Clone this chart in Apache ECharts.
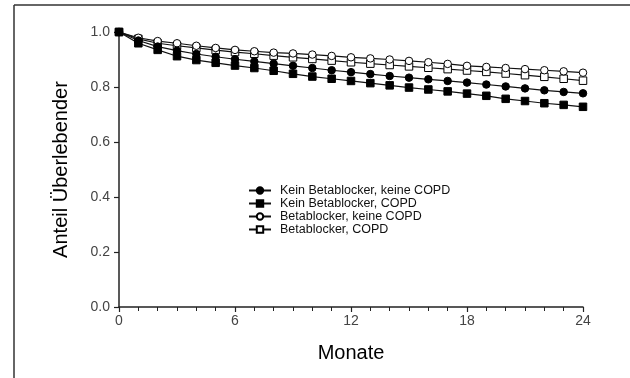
<!DOCTYPE html>
<html>
<head>
<meta charset="utf-8">
<script src="https://cdn.jsdelivr.net/npm/echarts@6/dist/echarts.min.js"></script>
<style>html,body{margin:0;padding:0;background:#fff}#c{width:630px;height:378px}</style>
</head>
<body>
<div id="c"></div>
<script>
const months = [0,1,2,3,4,5,6,7,8,9,10,11,12,13,14,15,16,17,18,19,20,21,22,23,24];
const seriesNames = ['Kein Betablocker, keine COPD','Kein Betablocker, COPD','Betablocker, keine COPD','Betablocker, COPD'];
const keinBB_keineCOPD = [1,0.969,0.947,0.932,0.920,0.910,0.901,0.893,0.885,0.877,0.869,0.861,0.854,0.847,0.840,0.834,0.828,0.822,0.816,0.809,0.802,0.795,0.788,0.782,0.777];
const keinBB_COPD = [1,0.959,0.935,0.912,0.898,0.888,0.878,0.869,0.859,0.848,0.838,0.830,0.822,0.814,0.806,0.798,0.791,0.784,0.776,0.768,0.757,0.749,0.741,0.735,0.728];
const BB_keineCOPD = [1,0.979,0.967,0.959,0.950,0.942,0.935,0.930,0.925,0.922,0.918,0.913,0.908,0.904,0.900,0.895,0.890,0.884,0.877,0.873,0.869,0.865,0.861,0.857,0.852];
const BB_COPD = [1,0.975,0.959,0.950,0.942,0.934,0.927,0.921,0.914,0.908,0.902,0.896,0.890,0.885,0.880,0.875,0.870,0.865,0.860,0.855,0.849,0.843,0.837,0.830,0.823];
const yTicks = ['0.0','0.2','0.4','0.6','0.8','1.0'];

const allData = [keinBB_keineCOPD, keinBB_COPD, BB_keineCOPD, BB_COPD];
const symbols = ['circle','rect','circle','rect'];
const fills = ['#000','#000','#fff','#fff'];

const chart = echarts.init(document.getElementById('c'), null, {renderer:'canvas'});
chart.setOption({
  backgroundColor:'#fff',
  animation:false,
  graphic:[
    {type:'line', shape:{x1:14,y1:5,x2:640,y2:5}, style:{stroke:'#333',lineWidth:1.5}},
    {type:'line', shape:{x1:14,y1:5,x2:14,y2:390}, style:{stroke:'#333',lineWidth:1.5}}
  ],
  grid:{left:119,right:47,top:32,bottom:71},
  legend:{
    orient:'vertical', left:248, top:184, padding:0, itemWidth:22, itemHeight:8, itemGap:0,
    textStyle:{fontFamily:'Liberation Sans, Arial, sans-serif', fontSize:12.5, lineHeight:12.5, color:'#111', padding:[0,0,0,4]},
    data: seriesNames
  },
  xAxis:{
    type:'value', min:0, max:24, interval:6,
    name:'Monate', nameLocation:'middle', nameGap:36,
    nameTextStyle:{fontFamily:'Liberation Sans, Arial, sans-serif', fontSize:20, color:'#000'},
    axisLine:{lineStyle:{color:'#222',width:1.5}},
    axisTick:{show:true, length:5, lineStyle:{color:'#222',width:1.2}},
    minorTick:{show:true, splitNumber:6, length:4, lineStyle:{color:'#222',width:1}},
    axisLabel:{fontFamily:'Liberation Sans, Arial, sans-serif', fontSize:14, color:'#444', margin:7},
    splitLine:{show:false}
  },
  yAxis:{
    type:'value', min:0, max:1, interval:0.2,
    name:'Anteil Überlebender', nameLocation:'middle', nameGap:48, nameRotate:90,
    nameTextStyle:{fontFamily:'Liberation Sans, Arial, sans-serif', fontSize:20, color:'#000'},
    axisLine:{show:true, lineStyle:{color:'#222',width:1.5}},
    axisTick:{show:true, length:5, lineStyle:{color:'#222',width:1.2}},
    axisLabel:{fontFamily:'Liberation Sans, Arial, sans-serif', fontSize:14, color:'#444', margin:9,
      formatter:(v)=>yTicks[Math.round(v*5)]},
    splitLine:{show:false}
  },
  series: allData.map((d,i)=>({
    name: seriesNames[i], type:'line',
    data: months.map((m,j)=>[m,d[j]]),
    symbol: symbols[i], symbolSize: 7.5,
    lineStyle:{color:'#111', width:1.2},
    itemStyle:{color: fills[i], borderColor:'#000', borderWidth:1},
    z: 10-i
  }))
});
</script>
</body>
</html>
